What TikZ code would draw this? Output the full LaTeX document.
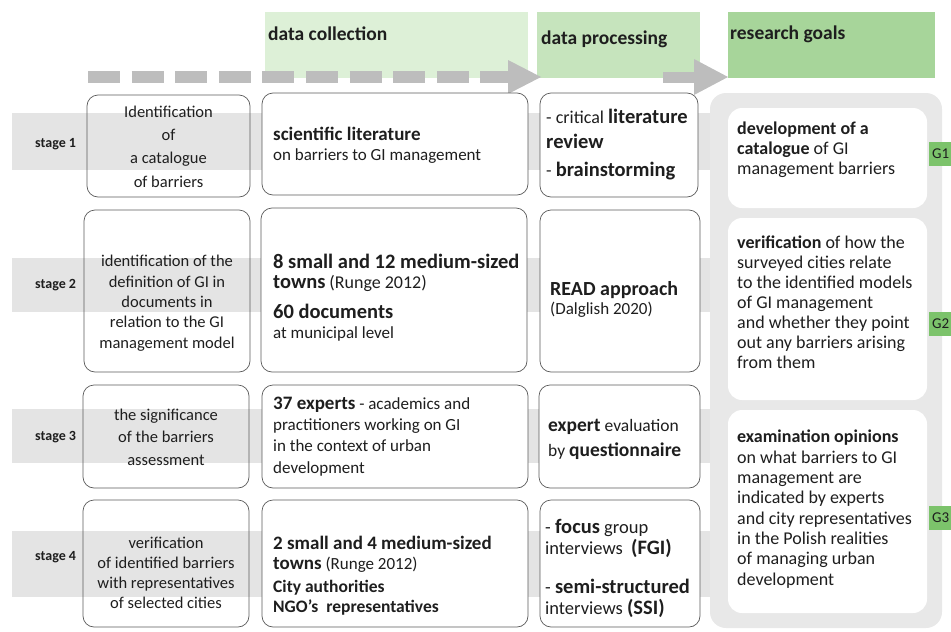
\documentclass[tikz,border=0pt]{standalone}
\usepackage{fontspec}
\setmainfont{Carlito}
\newcommand\fsz[2]{\fontsize{#1}{#2}\selectfont}
\definecolor{hdrA}{HTML}{DDF0D7}
\definecolor{hdrB}{HTML}{C6E4BD}
\definecolor{hdrC}{HTML}{A7D59A}
\definecolor{glabel}{HTML}{7CC36B}
\definecolor{bandgray}{HTML}{E4E4E4}
\definecolor{colgray}{HTML}{E8E8E8}
\definecolor{flowgray}{HTML}{BDBDBD}
\definecolor{linegray}{HTML}{5A5A5A}
\definecolor{ink}{HTML}{1E1E1E}
\begin{document}
\begin{tikzpicture}[x=1pt,y=-1pt,
  hdrbox/.style={inner sep=0pt, anchor=north west},
  hdrtxt/.style={inner sep=0pt, anchor=base west, text=ink, font=\fsz{19.5}{22}\bfseries},
  cell/.style={draw=linegray, line width=0.7pt, rounded corners=11pt},
  whitecell/.style={cell, fill=white},
  goalcell/.style={fill=white, rounded corners=14pt},
  band/.style={fill=bandgray},
  stagetxt/.style={inner sep=0pt, anchor=base west, text=ink, font=\fsz{14}{16}\bfseries},
  txt/.style={inner sep=0pt, text=ink},
  ctxt/.style={txt, align=center, anchor=base},
  ltxt/.style={txt, align=left, anchor=base west},
  glab/.style={fill=glabel, inner sep=0pt, minimum width=23pt, minimum height=24pt,
    anchor=west, text=ink, font=\fsz{15}{17}},
  dashshaft/.style={draw=flowgray, line width=12pt, dash pattern=on 32pt off 11.6pt},
  solidshaft/.style={draw=flowgray, line width=11pt},
  head/.style={fill=flowgray}
]
\useasboundingbox (0,0) rectangle (951,632);

% column headers
\node[hdrbox, fill=hdrA, minimum width=263pt, minimum height=66pt] (hcol) at (265,12) {};
\node[hdrbox, fill=hdrB, minimum width=163pt, minimum height=66pt] (hproc) at (537,12) {};
\node[hdrbox, fill=hdrC, minimum width=207pt, minimum height=66pt] (hgoal) at (728,12) {};
\node[hdrtxt] (hcolt) at (268,40) {data collection};
\node[hdrtxt] (hproct) at (541,44) {data processing};
\node[hdrtxt] (hgoalt) at (730,39) {research goals};

% flow arrows
\coordinate (dstart) at (88,77);
\coordinate (h1base) at (508,77);
\coordinate (tip1) at (541,77);
\draw[dashshaft] (dstart) -- (h1base);
\fill[head] ([yshift=17pt]h1base) -- (tip1) -- ([yshift=-17pt]h1base) -- cycle;
\coordinate (a2start) at (663,77);
\coordinate (h2base) at (694,77);
\draw[solidshaft] (a2start) -- (h2base);
\fill[head] ([yshift=18pt]h2base) -- (hgoal.west |- h2base) -- ([yshift=-18pt]h2base) -- cycle;

% stage bands
\fill[band] (12,113) rectangle (720,170);
\fill[band] (12,258) rectangle (720,312);
\fill[band] (12,409) rectangle (720,463);
\fill[band] (12,531) rectangle (720,597);

% goals column
\fill[colgray, rounded corners=16pt] (710,93) rectangle (942,628);

% first column (outlines only)
\draw[cell] (87,95) rectangle (250,197);
\draw[cell] (84,210) rectangle (250,372);
\draw[cell] (83,385) rectangle (249,488);
\draw[cell] (83,500) rectangle (249,627);

% second column
\draw[whitecell] (262,93) rectangle (528,195);
\draw[whitecell] (261,208) rectangle (527,372);
\draw[whitecell] (262,385) rectangle (528,488);
\draw[whitecell] (262,500) rectangle (528,627);

% third column
\draw[whitecell] (540,93) rectangle (698,197);
\draw[whitecell] (540,210) rectangle (700,372);
\draw[whitecell] (539,385) rectangle (700,488);
\draw[whitecell] (540,500) rectangle (700,627);

% goal boxes
\fill[goalcell] (728,108) rectangle (927,208);
\fill[goalcell] (728,218) rectangle (927,400);
\fill[goalcell] (728,410) rectangle (927,613);

% goal labels
\node[glab] (g1) at (929,154) {G1};
\node[glab] (g2) at (929,324) {G2};
\node[glab] (g3) at (929,518) {G3};

% stage labels
\node[stagetxt] (st1) at (35,147) {stage 1};
\node[stagetxt] (st2) at (35,288) {stage 2};
\node[stagetxt] (st3) at (35,440) {stage 3};
\node[stagetxt] (st4) at (35,560) {stage 4};

% first column texts (anchored on the last baseline)
\node[ctxt, font=\fsz{16.5}{23.3}] (c1a) at (168.5,187)
  {Identification\\of\\a catalogue\\of barriers};
\node[ctxt, font=\fsz{16.5}{20.3}] (c1b) at (167,348)
  {identification of the\\definition of GI in\\documents in\\relation to the GI\\management model};
\node[ctxt, font=\fsz{16.5}{22.5}] (c1c) at (166,465)
  {the significance\\of the barriers\\assessment};
\node[ctxt, font=\fsz{16.5}{20}] (c1d) at (166,608)
  {verification\\of identified barriers\\with representatives\\of selected cities};

% second column texts
\node[ltxt, font=\fsz{17}{20}] (c2a) at (273,160)
  {{\fsz{19}{20}\bfseries scientific literature}\\on barriers to GI management};
\node[ltxt, font=\fsz{17}{20}] (c2b) at (273,338)
  {{\fsz{20.5}{20}\bfseries 8 small and 12 medium-sized}\\{\fsz{20.5}{20}\bfseries towns} {\fsz{18}{20}(Runge 2012)}\\[10pt]{\fsz{20.5}{20}\bfseries 60 documents}\\at municipal level};
\node[ltxt, font=\fsz{17}{21.3}] (c2c) at (273,473)
  {{\fsz{19}{20}\bfseries 37 experts} - academics and\\practitioners working on GI\\in the context of urban\\development};
\node[ltxt, font=\fsz{17}{20}] (c2d) at (273,612)
  {{\fsz{19}{20}\bfseries 2 small and 4 medium-sized}\\{\fsz{19}{20}\bfseries towns} (Runge 2012)\\[3pt]{\fsz{17.5}{20}\bfseries City authorities}\\{\fsz{17.5}{20}\bfseries NGO's\ \ representatives}};

% third column texts
\node[ltxt, font=\fsz{18}{25}] (c3a) at (546,176)
  {- critical {\fsz{20.5}{20}\bfseries literature}\\{\fsz{20.5}{20}\bfseries review}\\[3pt]- {\fsz{20.5}{20}\bfseries brainstorming}};
\node[ltxt, font=\fsz{17}{19}] (c3b) at (550,314)
  {{\fsz{20}{20}\bfseries READ approach}\\(Dalglish 2020)};
\node[ltxt, font=\fsz{17.5}{25}] (c3c) at (548,456)
  {{\fsz{19.5}{20}\bfseries expert} evaluation\\by {\fsz{19.5}{20}\bfseries questionnaire}};
\node[ltxt, font=\fsz{18.5}{21}] (c3d) at (545,614)
  {- {\fsz{20.5}{20}\bfseries focus} group\\interviews\ \ {\fsz{20.5}{20}\bfseries(FGI)}\\[18pt]- {\fsz{20.5}{20}\bfseries semi-structured}\\interviews {\fsz{20.5}{20}\bfseries(SSI)}};

% goal texts
\node[ltxt, font=\fsz{18}{20}] (g1t) at (737,174)
  {\textbf{development of a}\\\textbf{catalogue} of GI\\management barriers};
\node[ltxt, font=\fsz{18}{20}] (g2t) at (737,368)
  {\textbf{verification} of how the\\surveyed cities relate\\to the identified models\\of GI management\\and whether they point\\out any barriers arising\\from them};
\node[ltxt, font=\fsz{18}{20.3}] (g3t) at (737,585)
  {\textbf{examination opinions}\\on what barriers to GI\\management are\\indicated by experts\\and city representatives\\in the Polish realities\\of managing urban\\development};
\end{tikzpicture}
\end{document}
